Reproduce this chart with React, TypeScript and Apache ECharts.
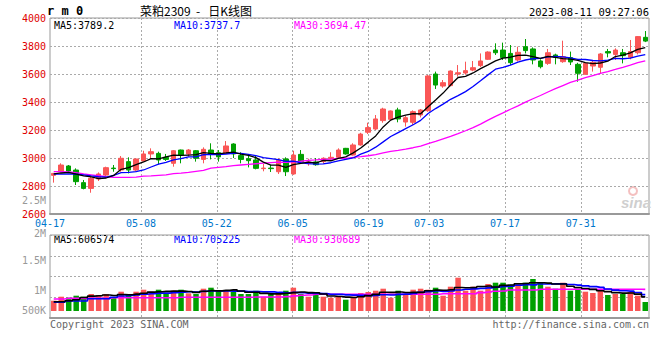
import React, { useEffect, useRef } from 'react';
import * as echarts from 'echarts';

const dates = [
  '04-17','04-18','04-19','04-20','04-21','04-24','04-25','04-26','04-27','04-28',
  '05-04','05-05','05-08','05-09','05-10','05-11','05-12','05-15','05-16','05-17',
  '05-18','05-19','05-22','05-23','05-24','05-25','05-26','05-29','05-30','05-31',
  '06-01','06-02','06-05','06-06','06-07','06-08','06-09','06-12','06-13','06-14',
  '06-15','06-16','06-19','06-20','06-21','06-26','06-27','06-28','06-29','06-30',
  '07-03','07-04','07-05','07-06','07-07','07-10','07-11','07-12','07-13','07-14',
  '07-17','07-18','07-19','07-20','07-21','07-24','07-25','07-26','07-27','07-28',
  '07-31','08-01','08-02','08-03','08-04','08-07','08-08','08-09','08-10','08-11'
];
const labelDates = ['04-17','05-08','05-22','06-05','06-19','07-03','07-17','07-31'];

const opens = [2876,2902,2943,2914,2824,2783,2850,2878,2928,2914,2974,2914,2979,3029,3033,3005,2962,3057,3029,3052,2990,3057,3038,3033,3100,3017,2995,2986,2924,2928,2902,2993,2886,3026,2960,2972,2974,2995,3005,3069,3021,3093,3184,3207,3267,3276,3343,3257,3255,3307,3338,3600,3514,3517,3600,3607,3628,3660,3705,3771,3771,3747,3700,3795,3779,3693,3676,3736,3688,3717,3669,3598,3657,3648,3760,3740,3752,3719,3752,3862];
const closes = [2890,2950,2907,2831,2783,2855,2886,2931,2924,2998,2914,2993,3029,3045,2986,2990,3052,3021,3057,2998,3062,3026,3008,3086,3029,2990,2981,2926,2928,2924,2986,2902,3021,2974,2972,2952,2998,3005,3057,3029,3093,3171,3217,3279,3350,3336,3279,3288,3331,3343,3586,3521,3538,3621,3609,3624,3645,3693,3757,3752,3717,3681,3755,3767,3700,3652,3752,3719,3724,3686,3605,3676,3683,3743,3750,3771,3731,3760,3867,3835];
const lows = [2824,2898,2902,2807,2776,2752,2836,2866,2902,2902,2890,2902,2974,2998,2955,2979,2938,2962,3010,2974,2962,2990,2974,3029,3000,2962,2933,2919,2905,2900,2886,2871,2880,2957,2945,2945,2960,2990,3000,3024,3017,3088,3171,3200,3252,3265,3255,3224,3236,3290,3330,3493,3502,3512,3581,3595,3620,3650,3700,3736,3700,3664,3690,3747,3669,3640,3665,3669,3680,3664,3545,3595,3617,3600,3719,3700,3676,3705,3740,3828];
const highs = [2893,2962,2950,2926,2843,2866,2897,2938,2950,3014,3005,2998,3052,3069,3045,3029,3057,3060,3064,3057,3076,3105,3057,3121,3105,3041,3021,3021,2957,2950,2998,3005,3052,3057,2995,3000,3005,3041,3069,3072,3105,3180,3252,3307,3359,3340,3359,3300,3340,3350,3593,3617,3557,3626,3664,3688,3693,3747,3762,3819,3824,3807,3795,3850,3790,3705,3779,3745,3838,3760,3680,3680,3693,3750,3779,3783,3779,3843,3871,3907];

const ma5 = [2886,2893,2898,2884,2872.2,2865.2,2852.4,2857.2,2875.8,2918.8,2930.6,2952,2971.6,2995.8,2993.4,3008.6,3020.4,3018.8,3021.2,3023.6,3038,3032.8,3030.2,3036,3042.2,3027.8,3018.8,3002.4,2970.8,2949.8,2949,2933.2,2952.2,2961.4,2971,2964.2,2983.4,2980.2,2996.8,3008.2,3036.4,3071,3113.4,3157.8,3222,3270.6,3292.2,3306.4,3316.8,3315.4,3365.4,3413.8,3463.8,3521.8,3575,3582.6,3607.4,3638.4,3665.6,3694.2,3712.8,3720,3732.4,3734.4,3724,3711,3725.2,3718,3709.4,3706.6,3697.2,3682,3674.8,3678.6,3691.4,3724.6,3735.6,3751,3775.8,3789.2];
const ma10 = [2885,2885,2886,2884,2880,2872,2866,2863,2875,2895.5,2897.9,2902.2,2914.4,2935.8,2956.1,2969.6,2986.2,2995.2,3008.5,3008.5,3023.3,3026.6,3024.5,3028.6,3032.9,3032.9,3025.8,3016.3,3003.4,2996,2988.4,2976,2977.3,2966.1,2960.4,2956.6,2958.3,2966.2,2979.1,2989.6,3000.3,3027.2,3046.8,3077.3,3115.1,3153.5,3181.6,3209.9,3237.3,3268.7,3318,3353,3385.1,3419.3,3445.2,3474,3510.6,3551.1,3593.7,3634.6,3647.7,3663.7,3685.4,3700,3709.1,3711.9,3722.6,3725.2,3721.9,3715.3,3704.1,3703.6,3696.4,3694,3699,3710.9,3708.8,3712.9,3727.2,3737.7];
const ma30 = [2902,2902,2900,2895,2886,2880,2874,2866,2862,2862,2862,2863,2870,2872,2876,2880,2888,2892,2898,2905,2912,2928,2933,2938,2945,2950,2955,2959,2963,2966.7,2969.9,2968.3,2972.1,2976.8,2983.1,2986.4,2990.1,2992.6,2997,2998,3004,3009.9,3016.2,3024,3036.1,3047.7,3055.2,3064.1,3073.3,3084.8,3102.2,3118.7,3136.4,3154.2,3173.6,3194.7,3216.8,3242.4,3270,3297.6,3322,3348,3372.4,3398.9,3423.1,3446.5,3471.6,3495.4,3517.6,3539.5,3556.6,3573.4,3589,3604.4,3617.8,3632.3,3647.3,3663.1,3680.9,3694.47];

// volumes in thousands of lots
const volumes = [443,615,572,658,615,731,688,731,572,830,658,830,916,830,916,731,873,916,761,731,959,1002,873,873,830,731,731,873,615,731,731,873,1002,731,615,688,615,572,615,486,615,774,817,873,959,572,873,688,916,959,916,1002,658,1045,1432,873,1045,873,1161,1217,1217,1131,1131,1217,1376,1217,1045,959,1217,873,959,830,774,916,688,731,731,817,658,387];
const volMa5 = [400,400,443,486,581,638,653,685,667,710,696,724,761,813,830,845,853,853,839,802,848,874,865,888,907,862,808,808,756,736,736,765,790,814,790,782,730,644,621,595,581,612,661,713,808,799,819,793,802,802,870,896,890,916,1011,1002,1011,1054,1077,1034,1103,1120,1171,1183,1214,1214,1197,1163,1163,1062,1011,968,931,870,833,788,768,777,725,606.574];
const volMa10 = [374,374,430,430,430,529,529,529,589,646,667,689,723,740,770,770,789,807,826,816,846,864,859,864,855,855,841,836,822,822,799,786,799,785,763,759,747,717,717,693,681,671,653,667,701,690,716,727,757,805,835,858,842,859,906,936,953,972,996,1022,1052,1065,1113,1130,1124,1159,1159,1167,1173,1138,1113,1082,1047,1017,948,899,868,854,798,705.225];
const volMa30 = [516,516,545,545,545,545,545,545,572,572,572,572,572,572,572,572,572,589,589,589,589,589,589,589,589,589,589,600,600,600,600,620,650,680,690,718,718,718,718,718,718,718,718,718,718,718,718,718,718,718,718,718,744,744,744,744,744,790,817,850,860,903,903,903,903,933,933,933,933,933,933,933,933,933,933,933,933,933,933,930.689];

const priceTicks = [2600, 4000, 200];
const volTickLabels = ['2.5M', '2M', '1.5M', '1M', '500K'];

const RED = '#fa5656';
const GREEN = '#00a000';
const MONO = 'DejaVu Sans Mono, monospace';

export default function App() {
  const ref = useRef<HTMLDivElement>(null);
  useEffect(() => {
    if (!ref.current) return;
    const chart = echarts.init(ref.current, undefined, { renderer: 'svg' });
    const labelIdx = labelDates.map((d) => dates.indexOf(d));
    const showIdx = (i: number) => labelIdx.indexOf(i) >= 0;
    const dashed = { color: '#aaa', type: [2, 2] as any, width: 1 };
    const candleData = dates.map((_, i) => [opens[i], closes[i], lows[i], highs[i]]);
    const K = 1000;
    const volData = volumes.map((v, i) => ({
      value: v * K,
      itemStyle: { color: closes[i] >= opens[i] ? RED : GREEN },
    }));
    const volLabelY = [200, 233.5, 260.5, 290.5, 310];
    const volLine = (d: number[], color: string) => ({
      type: 'line', xAxisIndex: 2, yAxisIndex: 1, data: d.map((v) => v * K), symbol: 'none', step: 'middle',
      lineStyle: { color, width: 1.6 },
    });
    const option: any = {
      animation: false,
      backgroundColor: '#fff',
      textStyle: { fontFamily: MONO },
      grid: [
        { left: 50, width: 599, top: 18, height: 196, show: true, borderColor: '#999', borderWidth: 1 },
        { left: 50, width: 599, top: 235, height: 76, show: false },
        { left: 50, width: 599, top: 235, height: 83, show: true, borderColor: '#999', borderWidth: 1 },
      ],
      xAxis: [
        { type: 'category', gridIndex: 0, data: dates, boundaryGap: true, show: false },
        {
          type: 'category', gridIndex: 0, data: dates, boundaryGap: false, position: 'bottom',
          axisLine: { show: true, lineStyle: { color: '#999', width: 2 } },
          axisTick: { show: false },
          axisLabel: { interval: (i: number) => showIdx(i), color: '#0077cc', fontFamily: MONO, fontSize: 10, lineHeight: 9, margin: 4.5 },
          splitLine: { show: true, interval: (i: number) => showIdx(i) && i > 0, lineStyle: dashed },
        },
        { type: 'category', gridIndex: 1, data: dates, boundaryGap: true, show: false },
        {
          type: 'category', gridIndex: 2, data: dates, boundaryGap: false, position: 'bottom',
          axisLine: { show: true, lineStyle: { color: '#999', width: 2 } },
          axisTick: { show: false },
          axisLabel: { show: false },
          splitLine: { show: true, interval: (i: number) => showIdx(i) && i > 0, lineStyle: dashed },
        },
      ],
      yAxis: [
        {
          type: 'value', gridIndex: 0, min: priceTicks[0], max: priceTicks[1], interval: priceTicks[2],
          axisLine: { show: false }, axisTick: { show: false },
          axisLabel: { color: '#e00000', fontFamily: MONO, fontSize: 10, lineHeight: 9, margin: 4, formatter: (v: number) => String(v) },
          splitLine: { show: true, lineStyle: dashed },
        },
        { type: 'value', gridIndex: 1, min: 0, max: 3268000, show: false, splitLine: { show: false } },
        {
          type: 'value', gridIndex: 2, min: 0, max: 4, interval: 1,
          axisLine: { show: false }, axisTick: { show: false }, axisLabel: { show: false },
          splitLine: { show: true, lineStyle: dashed },
        },
      ],
      series: [
        {
          type: 'candlestick', xAxisIndex: 0, yAxisIndex: 0, data: candleData, barWidth: 5,
          itemStyle: { color: RED, color0: GREEN, borderColor: RED, borderColor0: GREEN, borderWidth: 1 },
        },
        { type: 'line', xAxisIndex: 0, yAxisIndex: 0, data: ma30, symbol: 'none', lineStyle: { color: '#ff00ff', width: 1.3 } },
        { type: 'line', xAxisIndex: 0, yAxisIndex: 0, data: ma10, symbol: 'none', lineStyle: { color: '#0000ff', width: 1.3 } },
        { type: 'line', xAxisIndex: 0, yAxisIndex: 0, data: ma5, symbol: 'none', lineStyle: { color: '#000000', width: 1.3 } },
        { type: 'bar', xAxisIndex: 2, yAxisIndex: 1, data: volData, barWidth: 5.5 },
        volLine(volMa30, '#ff00ff'),
        volLine(volMa10, '#0000ff'),
        volLine(volMa5, '#000000'),
      ],
      graphic: [
        { type: 'text', left: 47, top: 5, style: { text: 'r m 0', font: 'bold 12px ' + MONO, fill: '#000' } },
        { type: 'text', left: 140, top: 4, style: { text: '菜粕2309  -   日K线图', font: '12px "Noto Sans CJK SC"', fill: '#000' } },
        { type: 'text', right: 11, top: 6, style: { text: '2023-08-11 09:27:06', font: '10.5px ' + MONO, fill: '#000' } },
        { type: 'text', left: 54, top: 20, style: { text: 'MA5:3789.2', font: '10px ' + MONO, fill: '#000' } },
        { type: 'text', left: 174, top: 20, style: { text: 'MA10:3737.7', font: '10px ' + MONO, fill: '#0000ff' } },
        { type: 'text', left: 294, top: 20, style: { text: 'MA30:3694.47', font: '10px ' + MONO, fill: '#ff00ff' } },
        { type: 'text', left: 54, top: 234, style: { text: 'MA5:606574', font: '10px ' + MONO, fill: '#000' } },
        { type: 'text', left: 174, top: 234, style: { text: 'MA10:705225', font: '10px ' + MONO, fill: '#0000ff' } },
        { type: 'text', left: 294, top: 234, style: { text: 'MA30:930689', font: '10px ' + MONO, fill: '#ff00ff' } },
        ...volTickLabels.map((t, k) => ({
          type: 'text', x: 46, y: volLabelY[k],
          style: { text: t, font: '10px ' + MONO, lineHeight: 8, fill: '#999', align: 'right', verticalAlign: 'middle' },
        })),
        { type: 'text', left: 50, top: 319, style: { text: 'Copyright 2023 SINA.COM', font: '10px ' + MONO, fill: '#666' } },
        { type: 'text', right: 11, top: 319, style: { text: 'http://finance.sina.com.cn', font: '10px ' + MONO, fill: '#666' } },
        { type: 'circle', shape: { cx: 633, cy: 191, r: 4 }, style: { fill: 'none', stroke: '#f4c0c0', lineWidth: 2 } },
        { type: 'text', x: 621, y: 195, style: { text: 'sina', font: 'italic bold 15px Arial, sans-serif', fill: '#cfcfcf' } },
      ],
    };
    chart.setOption(option);
    return () => chart.dispose();
  }, []);
  return <div ref={ref} style={{ width: 660, height: 360, position: 'absolute', left: 0, top: 0 }} />;
}
